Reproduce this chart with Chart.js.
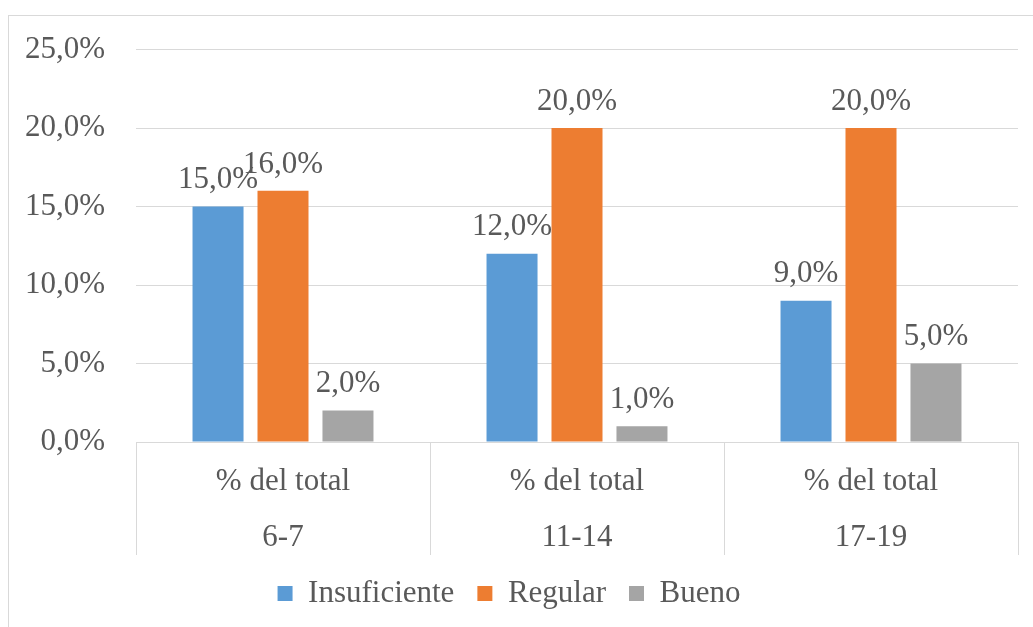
<!DOCTYPE html>
<html>
<head>
<meta charset="utf-8">
<script src="https://cdn.jsdelivr.net/npm/chart.js@4/dist/chart.umd.min.js"></script>
<style>
    html, body { margin: 0; padding: 0; background: #fff; overflow: hidden; }
    #wrap { position: relative; width: 1033px; height: 627px; }
    #frame { position: absolute; left: 8px; top: 15px; width: 1100px; height: 700px; border: 1px solid #d9d9d9; pointer-events: none; }
</style>
</head>
<body>
<div id="wrap">
    <canvas id="chart" width="1033" height="627"></canvas>
    <div id="frame"></div>
</div>
<script>
// ---------- DATA ----------
const groups = ['% del total', '% del total', '% del total'];
const ages = ['6-7', '11-14', '17-19'];
const insuficiente = [15, 12, 9];
const regular = [16, 20, 20];
const bueno = [2, 1, 5];

const TEXT = '#595959';
const GRID = '#d9d9d9';
const FONT = "'Liberation Serif', 'Times New Roman', serif";

const fmt = v => v.toFixed(1).replace('.', ',') + '%';

// ---------- VALUE LABELS ----------
const valueLabels = {
    id: 'valueLabels',
    afterDatasetsDraw(chart) {
        const ctx = chart.ctx;
        ctx.save();
        ctx.font = `31px ${FONT}`;
        ctx.fillStyle = TEXT;
        ctx.textAlign = 'center';
        ctx.textBaseline = 'bottom';
        chart.data.datasets.forEach((ds, i) => {
            chart.getDatasetMeta(i).data.forEach((bar, j) => {
                ctx.fillText(fmt(ds.data[j]), bar.x, bar.y - 11);
            });
        });
        ctx.restore();
    }
};

new Chart(document.getElementById('chart'), {
    type: 'bar',
    data: {
        labels: groups.map((g, i) => [g, ages[i]]),
        datasets: [
            { label: 'Insuficiente', data: insuficiente, backgroundColor: '#5b9bd5' },
            { label: 'Regular', data: regular, backgroundColor: '#ed7d31' },
            { label: 'Bueno', data: bueno, backgroundColor: '#a5a5a5' }
        ]
    },
    options: {
        responsive: false,
        animation: false,
        categoryPercentage: 0.663,
        barPercentage: 0.785,
        layout: { padding: { top: 23, right: 15, left: 0, bottom: 8 } },
        plugins: {
            tooltip: { enabled: false },
            legend: {
                position: 'bottom',
                labels: {
                    boxWidth: 15,
                    boxHeight: 15,
                    padding: 23,
                    color: TEXT,
                    font: { family: FONT, size: 31 }
                }
            }
        },
        scales: {
            x: {
                grid: { offset: true, drawOnChartArea: false, drawTicks: true, tickLength: 113, color: GRID },
                border: { display: true, color: GRID },
                ticks: {
                    color: TEXT,
                    padding: -101,
                    maxRotation: 0,
                    font: { family: FONT, size: 31, lineHeight: 1.8 }
                },
                afterFit: scale => { scale.height = 113; }
            },
            y: {
                min: 0,
                max: 25,
                border: { display: false },
                grid: { color: GRID, drawTicks: false },
                ticks: {
                    stepSize: 5,
                    padding: 31,
                    color: TEXT,
                    font: { family: FONT, size: 31 },
                    callback: v => fmt(v)
                },
                afterFit: scale => { scale.width = 136; }
            }
        }
    },
    plugins: [valueLabels]
});
</script>
</body>
</html>
